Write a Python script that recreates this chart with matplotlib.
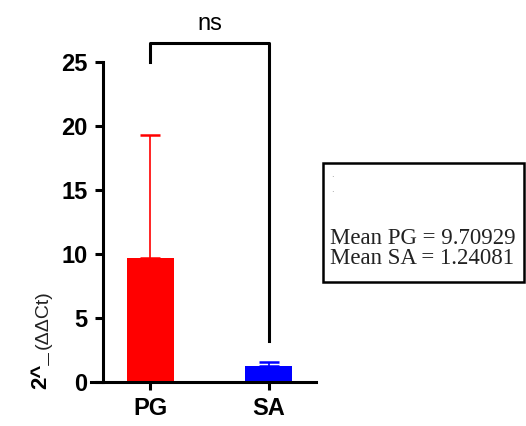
import matplotlib.pyplot as plt
from matplotlib.patches import Rectangle

grupos = ["PG", "SA"]
medias = [9.70929, 1.24081]
erro_sup = [9.6, 0.3]
cores = ["#ff0000", "#0000ff"]
yticks = [0, 5, 10, 15, 20, 25]
texto_caixa = ["Mean PG = 9.70929", "Mean SA = 1.24081"]

fig = plt.figure(figsize=(5.26, 4.26), dpi=100)
ax = fig.add_axes([0.173, 0.103, 0.428, 0.752])

x = list(range(len(grupos)))
ax.bar(x, medias, width=0.4, color=cores, zorder=2)
for xi, m, e, c in zip(x, medias, erro_sup, cores):
    ax.errorbar(xi, m, yerr=[[0], [e]], color=c, capsize=7, elinewidth=1.2,
                capthick=1.8, zorder=1)

ax.set_xlim(-0.5, 1.4)
ax.set_ylim(0, 25)
ax.set_yticks(yticks)
ax.set_xticks(x)
ax.set_xticklabels(grupos)
ax.spines["left"].set_position(("data", -0.4))
ax.spines["top"].set_visible(False)
ax.spines["right"].set_visible(False)
for s in ["left", "bottom"]:
    ax.spines[s].set_linewidth(2.2)
ax.tick_params(width=2.2, length=6, labelsize=17, pad=5)
for lab in ax.get_xticklabels() + ax.get_yticklabels():
    lab.set_fontweight("bold")
    lab.set_family("Liberation Sans")

# barra de significância
ax.plot([0, 0, 1, 1], [25, 26.5, 26.5, 3.2], color="black", lw=2.2,
        clip_on=False)
ax.text(0.5, 27.1, "ns", ha="center", va="bottom", fontsize=17,
        family="Liberation Sans")

# rótulo do eixo y
fig.text(0.078, 0.087, "2^_", rotation=90, ha="center", va="bottom",
         fontsize=16, fontweight="bold", family="Liberation Sans")
fig.text(0.082, 0.18, "(ΔΔCt)", rotation=90, ha="center", va="bottom",
         fontsize=14, family="Liberation Sans", color="#222222")

# caixa de texto
fig.patches.append(Rectangle((0.614, 0.338), 0.382, 0.279, transform=fig.transFigure,
                             fill=False, edgecolor="black", lw=1.8))
fig.text(0.630, 0.585, ".", fontsize=6, color="gray")
fig.text(0.630, 0.55, ".", fontsize=6, color="gray")
fig.text(0.627, 0.416, "\n".join(texto_caixa), fontsize=16.5,
         family="Liberation Serif", va="center", linespacing=0.95,
         color="#222222")

fig.savefig("out.png", dpi=100)
